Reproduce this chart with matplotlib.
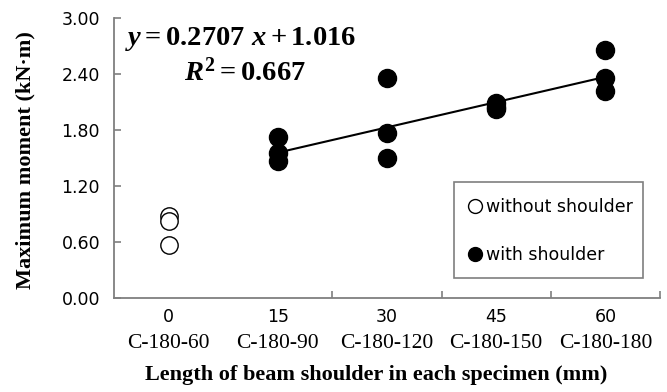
import numpy as np
import matplotlib
matplotlib.use("Agg")
import matplotlib.pyplot as plt
from matplotlib.lines import Line2D
from matplotlib.patches import Rectangle
import matplotlib.transforms as mtransforms

# shoulder length categories and specimen names
shoulder_mm = ["0", "15", "30", "45", "60"]
specimens = ["C-180-60", "C-180-90", "C-180-120", "C-180-150", "C-180-180"]

# without shoulder (category 1)
no_sh_cat = [1, 1, 1]
no_sh_moment = [0.88, 0.83, 0.57]

# with shoulder (categories 2..5)
sh_cat = [2, 2, 2, 3, 3, 3, 4, 4, 4, 5, 5, 5]
sh_moment = [1.73, 1.55, 1.47, 2.36, 1.77, 1.50, 2.09, 2.05, 2.02, 2.66, 2.36, 2.22]

# linear fit as printed on the chart
slope = 0.2707
intercept = 1.016
r2 = 0.667

y_ticks = [0.0, 0.6, 1.2, 1.8, 2.4, 3.0]

plt.rcParams['mathtext.fontset'] = 'custom'
plt.rcParams['mathtext.rm'] = 'Liberation Serif:bold'
plt.rcParams['mathtext.it'] = 'Liberation Serif:bold:italic'
plt.rcParams['mathtext.bf'] = 'Liberation Serif:bold'

fig = plt.figure(figsize=(6.67, 3.92), dpi=100)
ax = fig.add_axes([114/667, 1 - 298/392, 546/667, 280/392])

gray = '#7f7f7f'

ax.plot(no_sh_cat, no_sh_moment, 'o', ms=12.5, mfc='white', mec='black', mew=1.0, zorder=3)
ax.plot(sh_cat, sh_moment, 'o', ms=13, mfc='black', mec='black', zorder=3)

fit_x = np.array([min(sh_cat), max(sh_cat)])
ax.plot(fit_x, slope * fit_x + intercept, color='black', lw=1.5, zorder=2)

ax.set_xlim(0.5, 5.5)
ax.set_ylim(0, 3.0)

for s in ['top', 'right']:
    ax.spines[s].set_visible(False)
for s in ['left', 'bottom']:
    ax.spines[s].set_color(gray)
    ax.spines[s].set_linewidth(1.3)

ax.set_yticks(y_ticks)
ax.set_yticklabels([f"{v:.2f}" for v in y_ticks], fontsize=12.5, family='DejaVu Sans')
ax.tick_params(axis='y', direction='in', length=5, color=gray, width=1.2, pad=10)

cats = np.arange(1, len(shoulder_mm) + 1)
ax.set_xticks(cats)
ax.set_xticklabels(shoulder_mm, fontsize=12.5, family='DejaVu Sans')
ax.tick_params(axis='x', which='major', length=0, pad=7)
ax.set_xticks(cats[1:] + 0.5, minor=True)
ax.tick_params(axis='x', which='minor', direction='in', length=5, color=gray, width=1.2)

trans = mtransforms.blended_transform_factory(ax.transData, ax.transAxes)
for c, name in zip(cats, specimens):
    ax.text(c, -0.161, name, transform=trans, ha='center', va='center',
            fontsize=15.5, family='Liberation Serif')

fig.text(376/667, 1 - 375/392, "Length of beam shoulder in each specimen (mm)",
         ha='center', va='center', fontsize=16, family='Liberation Serif', fontweight='bold')
fig.text(25/667, 1 - 160/392, "Maximum moment (kN\u00b7m)", rotation=90,
         ha='center', va='center', fontsize=16, family='Liberation Serif', fontweight='bold')

ax.text(0.02, 0.925, r"$y = 0.2707\ x + 1.016$", transform=ax.transAxes,
        fontsize=20.5, ha='left', va='center')
ax.text(0.24, 0.805, r"$R^{2} = 0.667$", transform=ax.transAxes,
        fontsize=20.5, ha='center', va='center')

# legend frame drawn separately so its padding can match the original
ax.add_patch(Rectangle((0.6227, 0.0714), 0.346, 0.343, transform=ax.transAxes,
                       fill=True, facecolor='white', edgecolor=gray, lw=1.2, zorder=4))
handles = [
    Line2D([], [], marker='o', ls='none', ms=10, mfc='white', mec='black', mew=1.0),
    Line2D([], [], marker='o', ls='none', ms=10, mfc='black', mec='black'),
]
leg = ax.legend(handles, ["without shoulder", "with shoulder"], loc='center',
                bbox_to_anchor=(0.797, 0.239), frameon=False,
                prop={'family': 'DejaVu Sans', 'size': 12.5},
                labelspacing=1.75, handletextpad=0.1, handlelength=1.1, borderpad=0)
leg.set_zorder(5)

fig.savefig("out.png", dpi=100)
